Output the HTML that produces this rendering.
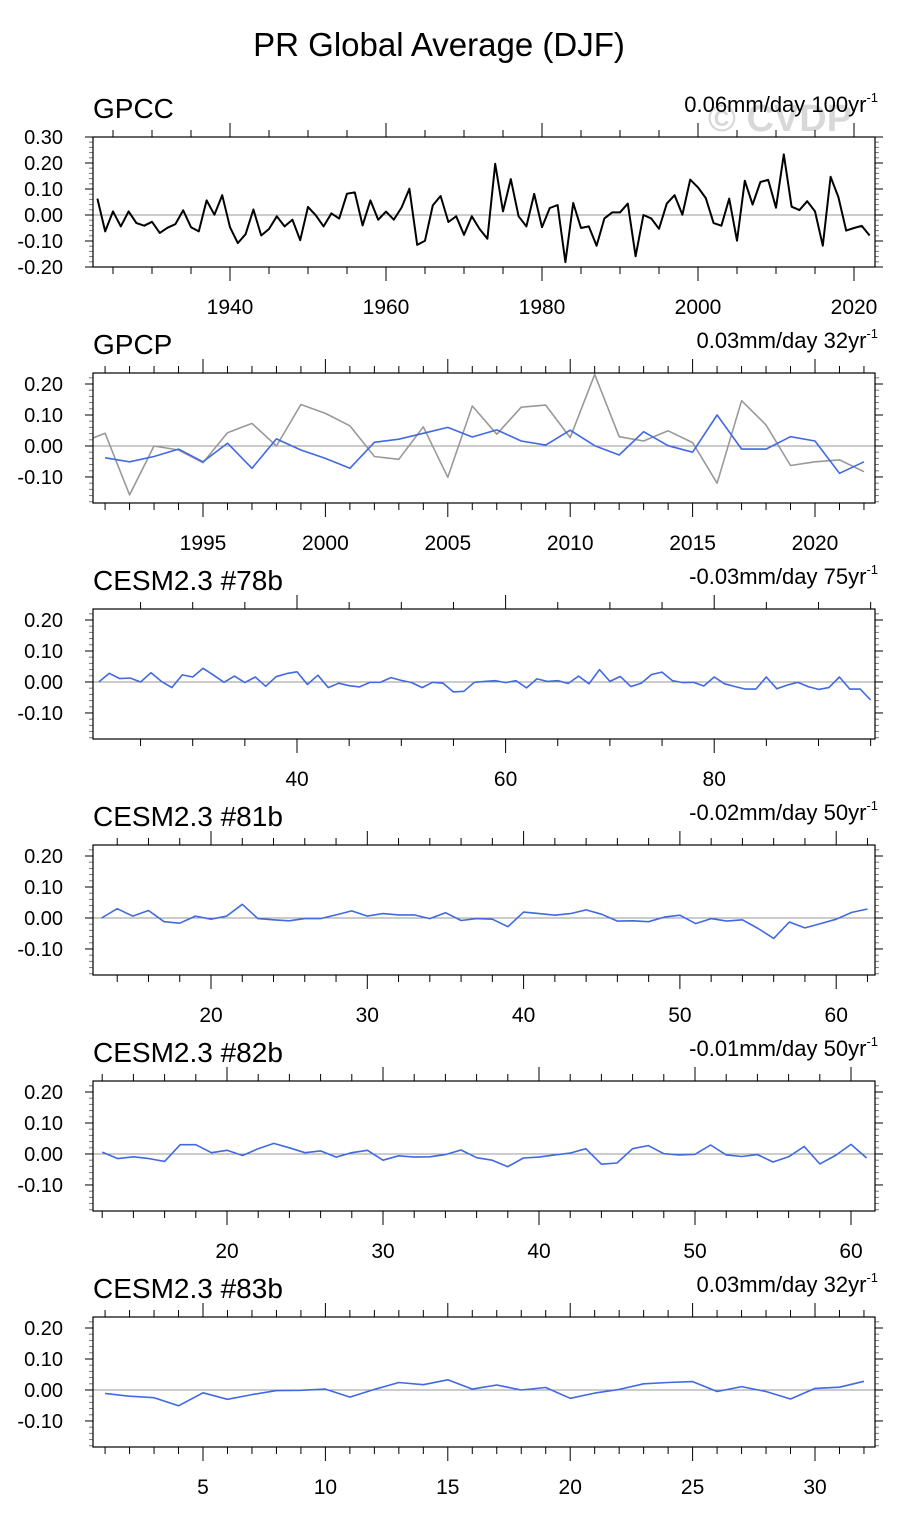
<!DOCTYPE html>
<html><head><meta charset="utf-8">
<style>
body{margin:0;background:#fff;}
svg{display:block;font-family:"Liberation Sans",sans-serif;}
</style></head>
<body>
<svg id="chart" width="907" height="1525" viewBox="0 0 907 1525" xmlns="http://www.w3.org/2000/svg">
<text x="439" y="56" font-size="33" text-anchor="middle">PR Global Average (DJF)</text>
<text x="780" y="131" font-size="38" font-weight="bold" text-anchor="middle" fill="#d8d8d8">© CVDP</text>
</svg>
<script>
// ---- data ----
const gpccYears0 = 1923;
const gpccValues = [0.063,-0.063,0.014,-0.044,0.014,-0.031,-0.041,-0.026,-0.069,-0.049,-0.035,0.018,-0.047,-0.063,0.056,0.001,0.076,-0.047,-0.108,-0.074,0.021,-0.079,-0.054,-0.005,-0.044,-0.018,-0.097,0.031,-0.001,-0.044,0.006,-0.014,0.082,0.087,-0.040,0.056,-0.018,0.013,-0.018,0.029,0.101,-0.115,-0.099,0.037,0.073,-0.027,-0.005,-0.076,-0.005,-0.054,-0.091,0.197,0.014,0.138,-0.005,-0.044,0.081,-0.047,0.027,0.038,-0.181,0.046,-0.050,-0.044,-0.118,-0.013,0.010,0.010,0.044,-0.159,0.000,-0.013,-0.053,0.044,0.076,0.001,0.136,0.106,0.065,-0.031,-0.041,0.063,-0.099,0.132,0.040,0.127,0.135,0.028,0.233,0.032,0.019,0.053,0.014,-0.118,0.147,0.069,-0.060,-0.050,-0.042,-0.079];
const gpcpGrayYears0 = 1990;
const gpcpGrayValues = [0.010,0.041,-0.158,0.000,-0.013,-0.054,0.043,0.073,0.000,0.134,0.105,0.065,-0.034,-0.043,0.062,-0.101,0.129,0.038,0.125,0.132,0.027,0.231,0.030,0.016,0.049,0.011,-0.120,0.146,0.068,-0.063,-0.051,-0.045,-0.083];
const gpcpBlueYears0 = 1991;
const gpcpBlueValues = [-0.038,-0.051,-0.034,-0.010,-0.051,0.009,-0.072,0.023,-0.013,-0.040,-0.072,0.012,0.022,0.041,0.060,0.029,0.052,0.016,0.003,0.051,0.001,-0.029,0.046,0.001,-0.020,0.100,-0.010,-0.010,0.030,0.016,-0.088,-0.051];
const cesm78Start = 21;
const cesm78Values = [0,0.028,0.011,0.013,0,0.030,0.002,-0.018,0.023,0.016,0.044,0.022,-0.001,0.019,-0.002,0.016,-0.014,0.017,0.027,0.033,-0.008,0.022,-0.018,-0.004,-0.012,-0.016,-0.001,-0.001,0.014,0.005,-0.002,-0.018,-0.001,-0.004,-0.032,-0.030,-0.001,0.002,0.004,-0.002,0.004,-0.019,0.010,0.002,0.004,-0.005,0.019,-0.006,0.040,0.002,0.018,-0.015,-0.004,0.024,0.032,0.004,-0.002,-0.001,-0.013,0.016,-0.006,-0.015,-0.023,-0.023,0.016,-0.022,-0.010,-0.001,-0.015,-0.024,-0.018,0.016,-0.023,-0.023,-0.058];
const cesm81Start = 13;
const cesm81Values = [0,0.030,0.006,0.024,-0.012,-0.017,0.006,-0.004,0.006,0.044,-0.002,-0.006,-0.009,-0.002,-0.002,0.010,0.023,0.006,0.014,0.010,0.010,-0.002,0.017,-0.008,-0.002,-0.004,-0.028,0.019,0.014,0.009,0.014,0.026,0.012,-0.010,-0.009,-0.012,0.003,0.009,-0.018,-0.002,-0.010,-0.006,-0.034,-0.066,-0.013,-0.032,-0.018,-0.004,0.018,0.029];
const cesm82Start = 12;
const cesm82Values = [0.006,-0.015,-0.009,-0.015,-0.024,0.030,0.030,0.004,0.012,-0.005,0.017,0.034,0.020,0.004,0.010,-0.010,0.004,0.012,-0.020,-0.006,-0.010,-0.009,-0.002,0.013,-0.012,-0.020,-0.041,-0.013,-0.010,-0.003,0.003,0.017,-0.033,-0.029,0.017,0.027,0.001,-0.003,-0.001,0.029,-0.003,-0.008,-0.002,-0.026,-0.009,0.024,-0.032,-0.005,0.031,-0.013];
const cesm83Start = 1;
const cesm83Values = [-0.011,-0.020,-0.025,-0.051,-0.009,-0.030,-0.015,-0.002,-0.001,0.003,-0.023,0.002,0.024,0.017,0.033,0.003,0.016,0.000,0.008,-0.027,-0.010,0.002,0.020,0.024,0.027,-0.005,0.011,-0.005,-0.029,0.005,0.009,0.028];
const yTickLabels = ["0.20","0.10","0.00","-0.10"];
const yTickLabelsGpcc = ["0.30","0.20","0.10","0.00","-0.10","-0.20"];

// ---- drawing ----
const NS = "http://www.w3.org/2000/svg";
const svg = document.getElementById("chart");
function mk(tag, attrs, parent){const e=document.createElementNS(NS,tag);for(const k in attrs)e.setAttribute(k,attrs[k]);(parent||svg).appendChild(e);return e;}

const X0 = 93, X1 = 875;
function drawPanel(p){
  const g = mk("g",{});
  
  
  const top = p.top, bot = p.top + 130;
  const yS = v => top + (p.yMax - v) / (p.yMax - p.yMin) * 130;
  const xS = v => p.xPx0 + (v - p.xVal0) * p.xPxPer;
  const cid = "clip-" + p.name;
  const cp = mk("clipPath",{id:cid}, g);
  mk("rect",{x:X0,y:top,width:X1-X0,height:130},cp);
  const t = mk("text",{x:93,y:top-19,"font-size":28},g); t.textContent = p.title;
  
  
  const tr = mk("text",{x:878,y:top-25,"font-size":22,"text-anchor":"end"},g);
  
  
  tr.textContent = p.trend;
  const sup = mk("tspan",{"font-size":13,dy:-10},tr); sup.textContent = "-1";
  for (let v = p.yMinTick; v <= p.yMax + 1e-9; v += 0.02){
    const y = yS(v);
    if (y < top - 0.5 || y > bot + 0.5) continue;
    const major = Math.abs(Math.round(v*10) - v*10) < 1e-6;
    const len = major ? 8 : 4;
    mk("line",{x1:X0-len,x2:X0,y1:y,y2:y,stroke:major?"#000":"#777","stroke-width":1},g);
    mk("line",{x1:X1,x2:X1+len,y1:y,y2:y,stroke:major?"#000":"#777","stroke-width":1},g);
  }
  p.yLabels.forEach(s => {
    const v = parseFloat(s);
    const tl = mk("text",{x:63,y:yS(v)+7,"font-size":20,"text-anchor":"end"},g);
    
    
    tl.textContent = s;
  });
  for (let v = p.xTickStart; xS(v) <= X1 + 0.5; v += p.minor){
    const x = xS(v);
    if (x < X0 - 0.5) continue;
    const major = (Math.round(v) % p.major) === 0;
    const len = major ? 14 : 7;
    mk("line",{x1:x,x2:x,y1:top-len,y2:top,stroke:"#000","stroke-width":1},g);
    mk("line",{x1:x,x2:x,y1:bot,y2:bot+len,stroke:"#000","stroke-width":1},g);
    if (major){
      const xl = mk("text",{x:x,y:bot+47,"font-size":21,"text-anchor":"middle"},g);
      
      
      xl.textContent = String(v);
    }
  }
  mk("line",{x1:X0,x2:X1,y1:yS(0),y2:yS(0),stroke:"#999","stroke-width":1},g);
  p.series.forEach(s => {
    const pts = s.values.map((v,i) => xS(s.start+i).toFixed(1)+","+yS(v).toFixed(1)).join(" ");
    const pl = mk("polyline",{points:pts,fill:"none",stroke:s.color,"stroke-width":s.w,"stroke-linejoin":"round","clip-path":"url(#"+cid+")"},g);
    
    
  });
  const b = mk("rect",{x:X0,y:top,width:X1-X0,height:130,fill:"none",stroke:"#000","stroke-width":1.2},g);
  
  
}
const P2 = {yMax:0.2355, yMin:-0.184, yMinTick:-0.18, yLabels:yTickLabels};
drawPanel({name:"gpcc-panel",title:"GPCC",trend:"0.06mm/day 100yr",top:137,yMax:0.3,yMin:-0.2,yMinTick:-0.2,yLabels:yTickLabelsGpcc,
  xPx0:230,xVal0:1940,xPxPer:7.8,xTickStart:1925,minor:5,major:20,
  series:[{name:"gpcc-line",start:gpccYears0,values:gpccValues,color:"#000",w:2}]});
drawPanel(Object.assign({name:"gpcp-panel",title:"GPCP",trend:"0.03mm/day 32yr",top:373,
  xPx0:203,xVal0:1995,xPxPer:24.48,xTickStart:1990,minor:1,major:5,
  series:[{name:"gpcp-gray-line",start:gpcpGrayYears0,values:gpcpGrayValues,color:"#999",w:1.6},
          {name:"gpcp-blue-line",start:gpcpBlueYears0,values:gpcpBlueValues,color:"#4169e1",w:1.6}]},P2));
drawPanel(Object.assign({name:"cesm78b-panel",title:"CESM2.3 #78b",trend:"-0.03mm/day 75yr",top:609,
  xPx0:297,xVal0:40,xPxPer:10.43,xTickStart:20,minor:5,major:20,
  series:[{name:"cesm78b-line",start:cesm78Start,values:cesm78Values,color:"#4169e1",w:1.6}]},P2));
drawPanel(Object.assign({name:"cesm81b-panel",title:"CESM2.3 #81b",trend:"-0.02mm/day 50yr",top:845,
  xPx0:211,xVal0:20,xPxPer:15.63,xTickStart:12,minor:2,major:10,
  series:[{name:"cesm81b-line",start:cesm81Start,values:cesm81Values,color:"#4169e1",w:1.6}]},P2));
drawPanel(Object.assign({name:"cesm82b-panel",title:"CESM2.3 #82b",trend:"-0.01mm/day 50yr",top:1081,
  xPx0:227,xVal0:20,xPxPer:15.6,xTickStart:12,minor:2,major:10,
  series:[{name:"cesm82b-line",start:cesm82Start,values:cesm82Values,color:"#4169e1",w:1.6}]},P2));
drawPanel(Object.assign({name:"cesm83b-panel",title:"CESM2.3 #83b",trend:"0.03mm/day 32yr",top:1317,
  xPx0:203,xVal0:5,xPxPer:24.48,xTickStart:1,minor:1,major:5,
  series:[{name:"cesm83b-line",start:cesm83Start,values:cesm83Values,color:"#4169e1",w:1.6}]},P2));
</script>
</body></html>
